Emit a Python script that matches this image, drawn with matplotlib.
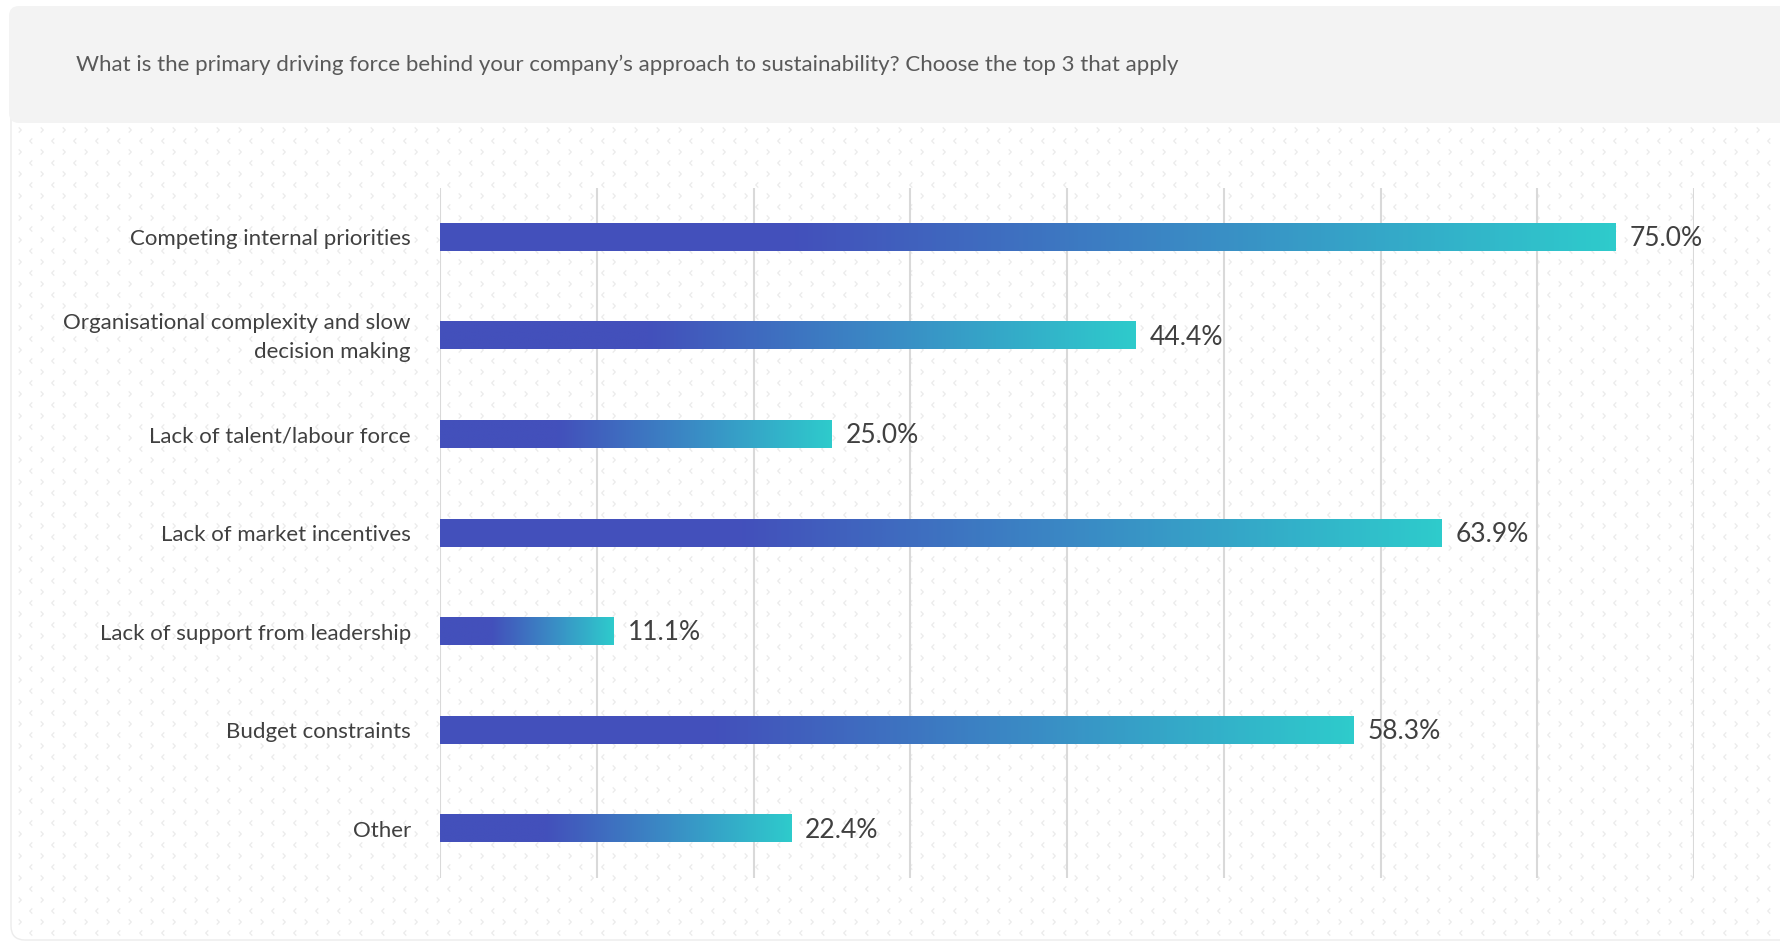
import numpy as np
import matplotlib
matplotlib.use("Agg")
import matplotlib.pyplot as plt
import matplotlib.transforms as mtransforms
from matplotlib.patches import FancyBboxPatch
from matplotlib.path import Path
from matplotlib.colors import LinearSegmentedColormap

categories = [
    "Competing internal priorities",
    "Organisational complexity and slow\ndecision making",
    "Lack of talent/labour force",
    "Lack of market incentives",
    "Lack of support from leadership",
    "Budget constraints",
    "Other",
]
values = [75.0, 44.4, 25.0, 63.9, 11.1, 58.3, 22.4]
title = ("What is the primary driving force behind your company\u2019s approach "
         "to sustainability? Choose the top 3 that apply")

plt.rcParams["font.family"] = ["Lato", "DejaVu Sans"]

W, H = 1780, 943
fig = plt.figure(figsize=(W / 100, H / 100), dpi=100)
fig.patch.set_facecolor("white")

# background card, pattern and header, in pixel coords
bg = fig.add_axes([0, 0, 1, 1], zorder=-2)
bg.set_xlim(0, W)
bg.set_ylim(H, 0)
bg.axis("off")
bg.add_patch(FancyBboxPatch((11, 90), W + 40, 850, boxstyle="round,pad=0,rounding_size=14",
                            facecolor="white", edgecolor="#ececec", linewidth=1.0))
chev_r = Path([(-0.5, 1), (0.5, 0), (-0.5, -1)], [Path.MOVETO, Path.LINETO, Path.LINETO])
chev_l = Path([(0.5, 1), (-0.5, 0), (0.5, -1)], [Path.MOVETO, Path.LINETO, Path.LINETO])
ys = np.arange(130, 936, 11)
for k, yy in enumerate(ys):
    xs = np.arange(20 + (k % 2) * 11, W, 22)
    bg.scatter(xs, np.full_like(xs, yy, dtype=float), marker=chev_r if k % 2 == 0 else chev_l,
               s=14, facecolors="none", edgecolors="#ebebeb", linewidths=0.9)
bg.add_patch(FancyBboxPatch((9, 6), W + 40, 117, boxstyle="round,pad=0,rounding_size=10",
                            facecolor="#f3f3f3", edgecolor="none"))
bg.text(76, 65, title, fontsize=16, color="#595959", va="center", ha="left")

# main chart
ax = fig.add_axes([440 / W, 1 - 878 / H, (1694 - 440) / W, (878 - 188) / H])
ax.patch.set_alpha(0)
cmap = LinearSegmentedColormap.from_list(
    "bar", [(0.0, "#4350bb"), (0.3, "#4350bb"), (0.65, "#3a8cc5"), (1.0, "#2ecbcc")])
grad = np.linspace(0, 1, 256).reshape(1, -1)
bar_h = 0.275
for i, (cat, v) in enumerate(zip(categories, values)):
    ax.imshow(grad, cmap=cmap, aspect="auto", interpolation="bilinear",
              extent=[0, v, i + bar_h / 2, i - bar_h / 2], zorder=3)
    ax.annotate(f"{v:.1f}%", (v, i), textcoords="offset points", xytext=(10, -1),
                ha="left", va="center", fontsize=19, color="#404040", annotation_clip=False)

ax.set_xlim(0, 80)
ax.set_ylim(6.5, -0.5)
ax.set_xticks(np.arange(0, 81, 10))
ax.set_yticks(range(len(categories)))
ax.set_yticklabels(categories, fontsize=16, color="#404040", multialignment="right",
                   linespacing=1.6)
ax.tick_params(axis="y", length=0, pad=21)
ax.tick_params(axis="x", length=0, labelbottom=False)
ax.grid(True, axis="x", color="#d9d9d9", linewidth=1.5, zorder=0)
for s in ax.spines.values():
    s.set_visible(False)

# two-line label sits a touch higher in the original
lbl = ax.get_yticklabels()[1]
lbl.set_transform(lbl.get_transform() + mtransforms.ScaledTranslation(0, 0.05, fig.dpi_scale_trans))

fig.savefig("out.png", dpi=100)
